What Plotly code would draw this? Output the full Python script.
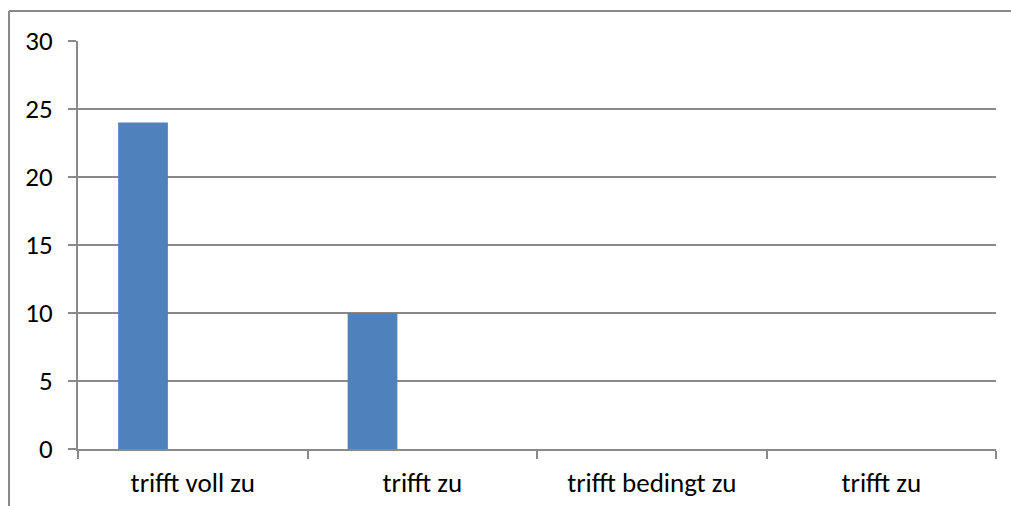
import plotly.graph_objects as go

categories = ["trifft voll zu", "trifft zu", "trifft bedingt zu", "trifft zu"]
series1 = [24, 10, 0, 0]
series2 = [0, 0, 0, 0]
series3 = [0, 0, 0, 0]
y_ticks = [0, 5, 10, 15, 20, 25, 30]

positions = list(range(len(categories)))
W, H = 1011, 506
ml, mr, mt, mb = 78, 15, 41, 57
grey = "#898989"
font = dict(family="Carlito, Lato, 'Open Sans', sans-serif", size=27, color="#000000")

fig = go.Figure()
for vals in (series1, series2, series3):
    fig.add_trace(go.Bar(x=positions, y=vals, marker=dict(color="#4F81BD", line=dict(width=0)),
                         showlegend=False))

fig.update_layout(
    width=W, height=H,
    margin=dict(l=ml, r=mr, t=mt, b=mb, autoexpand=False),
    paper_bgcolor="white", plot_bgcolor="white",
    barmode="group", bargap=0.35, bargroupgap=0,
    font=font,
    xaxis=dict(
        range=[-0.5, len(categories) - 0.5],
        tickmode="array", tickvals=positions, ticktext=categories,
        ticks="", showgrid=False, zeroline=False,
        showline=True, linecolor=grey, linewidth=2,
        ticklabelstandoff=9,
        minor=dict(tickmode="linear", tick0=-0.5, dtick=1, ticks="outside",
                   ticklen=8, tickcolor=grey, tickwidth=2, showgrid=False),
    ),
    yaxis=dict(
        range=[0, 30], tickmode="array", tickvals=y_ticks,
        ticks="outside", ticklen=8, tickcolor=grey, tickwidth=2,
        showgrid=True, gridcolor=grey, gridwidth=2, zeroline=False,
        showline=True, linecolor=grey, linewidth=2,
        ticklabelstandoff=10,
    ),
)

# outer chart frame (top and left edges visible)
pw = W - ml - mr
ph = H - mt - mb
def px_x(p):
    return (p - ml) / pw
def px_y(p):
    return 1 - (p - mt) / ph

fig.add_shape(type="line", xref="paper", yref="paper",
              x0=px_x(9), x1=px_x(W + 5), y0=px_y(11), y1=px_y(11),
              line=dict(color=grey, width=2))
fig.add_shape(type="line", xref="paper", yref="paper",
              x0=px_x(9), x1=px_x(9), y0=px_y(11), y1=px_y(H + 5),
              line=dict(color=grey, width=2))

fig.write_html("out.html", config={"displayModeBar": False},
               post_script="document.body.style.margin='0';document.body.style.overflow='hidden';")
